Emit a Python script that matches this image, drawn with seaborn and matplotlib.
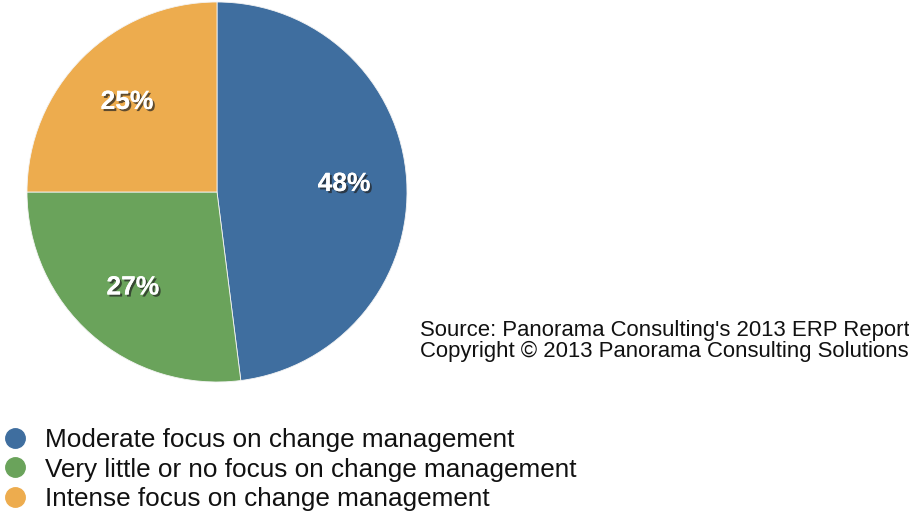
import matplotlib
matplotlib.use("Agg")
import matplotlib.pyplot as plt
import matplotlib.patheffects as pe
from matplotlib.lines import Line2D
import seaborn as sns

# Data
categories = ["Moderate focus on change management",
              "Very little or no focus on change management",
              "Intense focus on change management"]
shares = [48, 27, 25]
colors = ["#3F6E9F", "#6AA35B", "#EDAC4E"]

sns.set_style("white")
plt.rcParams['font.family'] = ['Liberation Sans', 'DejaVu Sans']

W, H = 909, 512
fig = plt.figure(figsize=(W / 100, H / 100), dpi=100)

# pie axes placed in pixel coordinates
ax = fig.add_axes([27 / W, 130 / H, 380 / W, 380 / H])
wedges, _, autotexts = ax.pie(shares, colors=colors, startangle=90, counterclock=False,
                              autopct='%d%%', pctdistance=0.67,
                              wedgeprops=dict(linewidth=0.6, edgecolor='#f4f4f4'))
for t in autotexts:
    t.set_color('white')
    t.set_fontsize(19)
    t.set_fontweight('bold')
    t.set_path_effects([pe.withSimplePatchShadow(offset=(1.5, -1.5), shadow_rgbFace='#222222', alpha=0.7),
                        pe.Normal()])
ax.set_xlim(-1, 1)
ax.set_ylim(-1, 1)
ax.set_aspect('equal')
ax.axis('off')

# Source note
fig.text(420 / W, 1 - 341 / H, "Source: Panorama Consulting's 2013 ERP Report\nCopyright © 2013 Panorama Consulting Solutions",
         fontsize=15.9, va='center', ha='left', linespacing=1.05, color='#111111')

# Legend
handles = [Line2D([], [], marker='o', linestyle='', markersize=14, markerfacecolor=c, markeredgecolor=c)
           for c in colors]
fig.legend(handles, categories, loc='upper left', bbox_to_anchor=(-16 / W, 1 - 410 / H),
           frameon=False, fontsize=18.8, handletextpad=0.65, labelspacing=0.2, borderpad=0.2,
           handlelength=1.0, labelcolor='#111111')

fig.savefig("out.png", dpi=100)
